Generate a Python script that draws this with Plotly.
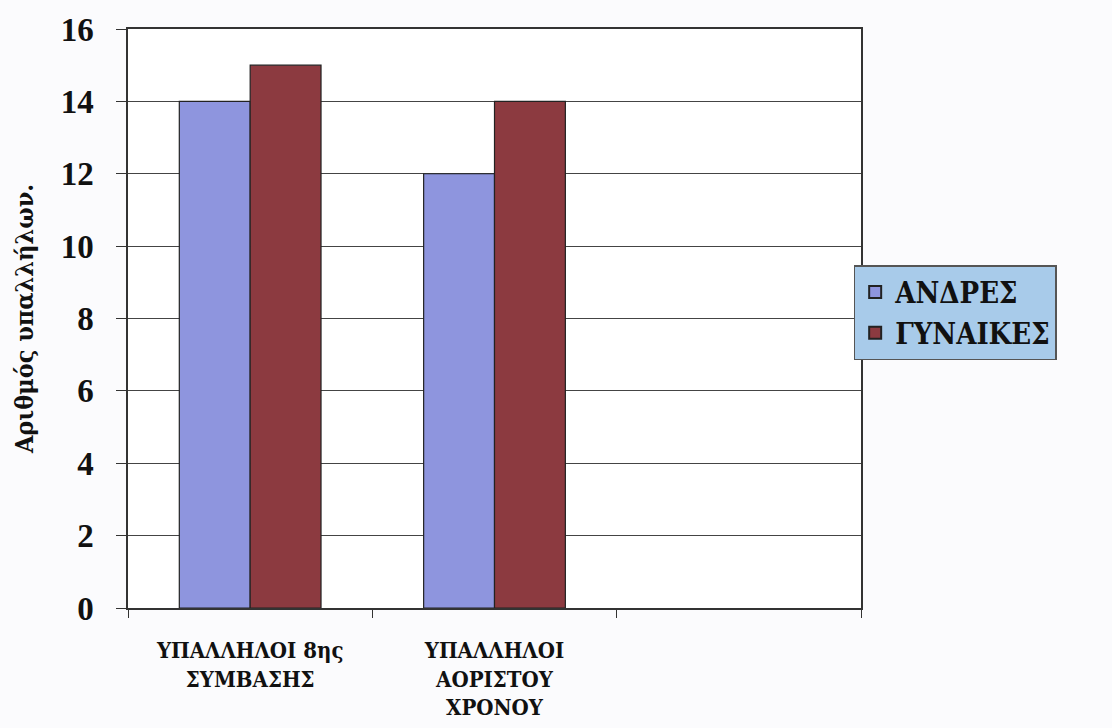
import plotly.graph_objects as go

categories = ["ΥΠΑΛΛΗΛΟΙ 8ης<br>ΣΥΜΒΑΣΗΣ", "ΥΠΑΛΛΗΛΟΙ<br>ΑΟΡΙΣΤΟΥ<br>ΧΡΟΝΟΥ", " "]
men = [14, 12, None]
women = [15, 14, None]
series_names = ["ΑΝΔΡΕΣ", "ΓΥΝΑΙΚΕΣ"]
y_ticks = [0, 2, 4, 6, 8, 10, 12, 14, 16]
y_title = "Αριθμός υπαλλήλων."

serif = "'Liberation Serif', 'DejaVu Serif Condensed', 'DejaVu Serif', serif"
greek = "'DejaVu Serif Condensed', 'DejaVu Serif', serif"
blue = "#8e95de"
red = "#8c3a40"

fig = go.Figure()
fig.add_bar(x=categories, y=men, name=series_names[0],
            marker=dict(color=blue, line=dict(color="#222", width=1.2)))
fig.add_bar(x=categories, y=women, name=series_names[1],
            marker=dict(color=red, line=dict(color="#222", width=1.2)))

fig.update_layout(
    width=1112, height=728,
    margin=dict(l=128, r=251, t=29, b=120),
    paper_bgcolor="#fbfbfd", plot_bgcolor="#ffffff",
    barmode="group", bargap=0.42, bargroupgap=0,
    font=dict(family=greek, color="#111", size=18, weight=700),
    showlegend=True,
    legend=dict(
        x=0.99, xanchor="left", y=0.592, yanchor="top",
        bgcolor="#a8cbea", bordercolor="#555", borderwidth=1.5,
        font=dict(family=greek, size=29, color="#111", weight=700),
        itemsizing="constant", tracegroupgap=10,
    ),
    xaxis=dict(
        showgrid=False, showline=True, linecolor="#333", linewidth=1.5,
        mirror=True, ticks="outside", tickson="boundaries", ticklen=8,
        tickcolor="#333", tickfont=dict(family=greek, size=22, weight=700),
        ticklabelstandoff=22, automargin=False,
    ),
    yaxis=dict(
        range=[0, 16], tickvals=y_ticks, showgrid=True, gridcolor="#444",
        gridwidth=1, showline=True, linecolor="#333", linewidth=1.5,
        mirror=True, ticks="outside", ticklen=10, tickcolor="#333",
        tickfont=dict(family=serif, size=33, weight=700),
        ticklabelstandoff=16, automargin=False,
        title=dict(text=y_title, font=dict(family=greek, size=25, weight=700),
                   standoff=20),
        zeroline=False,
    ),
)

fig.write_html("out.html")
